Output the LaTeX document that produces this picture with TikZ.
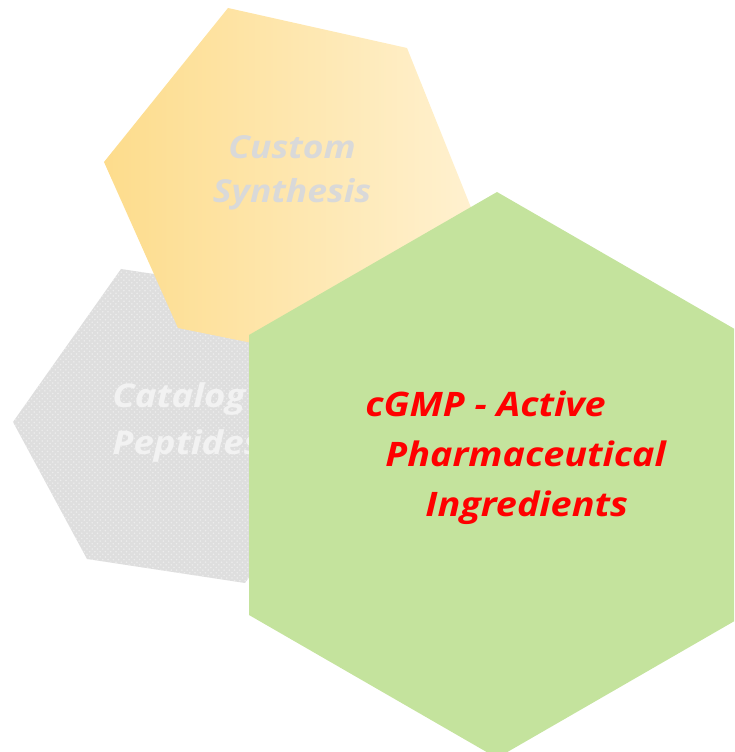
\documentclass[tikz,border=0pt]{standalone}
\usepackage{fontspec}
\setmainfont{Open Sans}[FakeStretch=1.12]
\definecolor{apigreen}{RGB}{196,227,157}
\definecolor{apired}{RGB}{255,0,0}
\definecolor{synthdeep}{RGB}{253,220,140}
\definecolor{synthpale}{RGB}{255,241,208}
\definecolor{synthtext}{RGB}{217,217,217}
\definecolor{catfill}{RGB}{222,222,222}
\definecolor{catdots}{RGB}{236,236,236}
\definecolor{cattext}{RGB}{242,242,242}
\usepackage{tikz}
\usetikzlibrary{patterns}

\tikzset{
  hexlabel/.style={font=\fontsize{19.2}{28.5}\selectfont\bfseries\itshape, inner sep=0pt}
}

\begin{document}
\begin{tikzpicture}
  \clip (0,0) rectangle (14.68,15.04);

  % Catalog peptides (back)
  \fill[catfill] (2.42,9.66) -- (0.26,6.60) -- (1.74,3.86) -- (4.90,3.38) -- (7.06,6.44) -- (5.58,9.18) -- cycle;
  \fill[pattern=crosshatch dots, pattern color=catdots] (2.42,9.66) -- (0.26,6.60) -- (1.74,3.86) -- (4.90,3.38) -- (7.06,6.44) -- (5.58,9.18) -- cycle;
  \node[hexlabel, font=\fontsize{18.6}{27.3}\selectfont\bfseries\itshape, text=cattext, align=left, anchor=base west] (catalog) at (2.24,5.94) {Catalog\\Peptides};

  % Custom synthesis
  \shade[left color=synthdeep, right color=synthpale] (2.08,11.80) -- (4.56,14.88) -- (8.14,14.08) -- (9.52,10.64) -- (7.12,7.76) -- (3.56,8.48) -- cycle;
  \node[hexlabel, font=\fontsize{18}{25.6}\selectfont\bfseries\itshape, text=synthtext, align=center, anchor=base] (custom) at (5.84,10.98) {Custom\\Synthesis};

  % cGMP API (front)
  \fill[apigreen] (9.94,11.20) -- (14.90,8.34) -- (14.90,2.74) -- (9.94,-0.12) -- (4.98,2.74) -- (4.98,8.34) -- cycle;
  \node[hexlabel, text=apired, align=left, anchor=base west] (cgmp) at (7.30,4.70) {cGMP - Active\\\hspace*{0.4cm}Pharmaceutical\\\hspace*{1.2cm}Ingredients};
\end{tikzpicture}
\end{document}
